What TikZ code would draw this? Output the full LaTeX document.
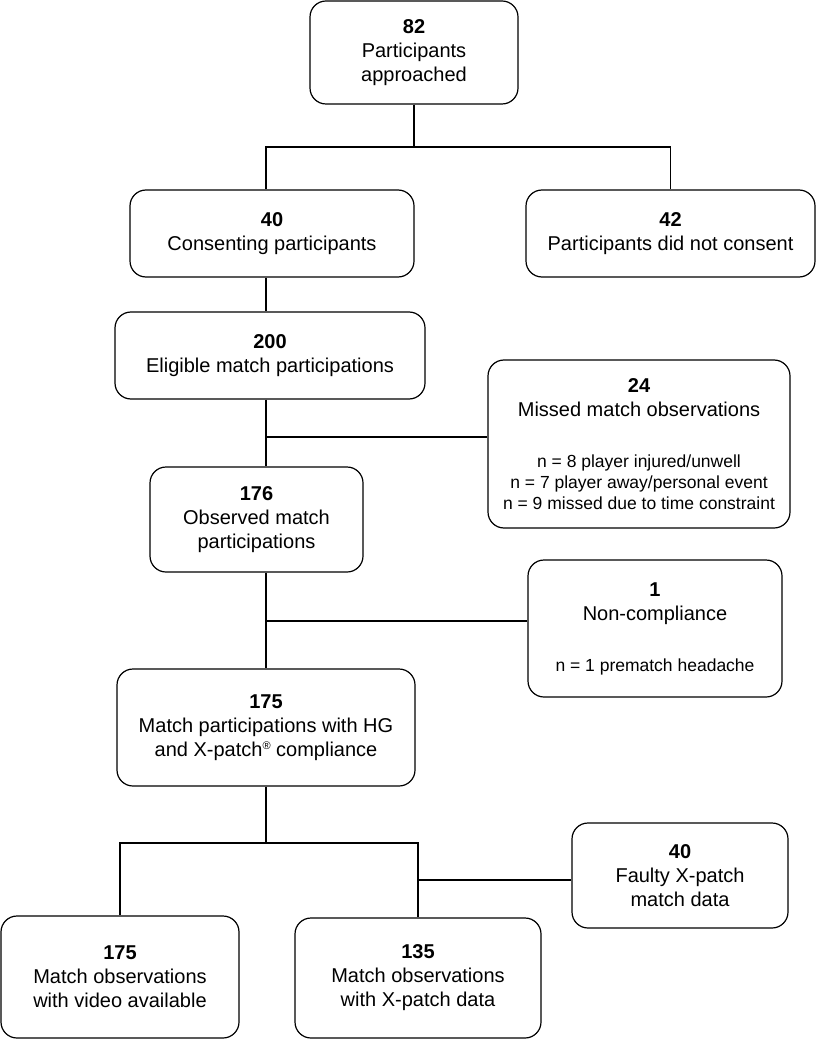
\documentclass[tikz,border=0pt]{standalone}
\usepackage{fontspec}
\setmainfont{Liberation Sans}
\tikzset{
  box/.style={draw, rounded corners=16pt, line width=1.2pt, align=center, inner sep=0pt, font=\fontsize{20}{24}\selectfont},
  link/.style={line width=1.2pt},
}
\newcommand\nline[1]{{\fontsize{17.5}{21}\selectfont #1}}
\newcommand\regmark{\raisebox{7pt}{\fontsize{11}{11}\selectfont ®}}
\begin{document}
\begin{tikzpicture}[x=1pt,y=-1pt]
\useasboundingbox (0,0) rectangle (817,1040);
\coordinate (trunk) at (266,0);
\node[box, minimum width=208pt, minimum height=103pt] (n82) at (414,52.5) {\textbf{82}\\Participants\\approached};
\node[box, minimum width=284pt, minimum height=87pt] (n40) at (272,233.5) {\textbf{40}\\Consenting participants};
\node[box, minimum width=289pt, minimum height=87pt] (n42) at (670.5,233.5) {\textbf{42}\\Participants did not consent};
\node[box, minimum width=310pt, minimum height=87pt] (n200) at (270,355.5) {\textbf{200}\\Eligible match participations};
\node[box, minimum width=302pt, minimum height=168pt] (n24) at (639,444) {\textbf{24}\\Missed match observations\\[27pt]\nline{n = 8 player injured/unwell}\\[-3pt]\nline{n = 7 player away/personal event}\\[-3pt]\nline{n = 9 missed due to time constraint}};
\node[box, minimum width=213pt, minimum height=105pt] (n176) at (256.5,519.5) {\textbf{176}\\Observed match\\participations};
\node[box, minimum width=254pt, minimum height=137pt] (n1) at (655,628.5) {\textbf{1}\\Non-compliance\\[27pt]\nline{n = 1 prematch headache}};
\node[box, minimum width=298pt, minimum height=117pt] (n175) at (266,727.5) {\textbf{175}\\Match participations with HG\\and X-patch\regmark{} compliance};
\node[box, minimum width=216pt, minimum height=105pt] (n40f) at (680,875.5) {\textbf{40}\\Faulty X-patch\\match data};
\node[box, minimum width=238pt, minimum height=122pt] (n175v) at (120,977) {\textbf{175}\\Match observations\\with video available};
\node[box, minimum width=246pt, minimum height=120pt] (n135) at (418,978) {\textbf{135}\\Match observations\\with X-patch data};
% splits and side branches
\coordinate (s1) at (414,147);
\coordinate (m1) at (266,437);
\coordinate (m2) at (266,621);
\coordinate (s2) at (266,843);
\coordinate (m3) at (418,880);
\draw[link] (n82) -- (s1);
\draw[link] (n40.north -| trunk) |- (s1) -| (n42);
\draw[link] (n40.south -| trunk) -- (n200.north -| trunk);
\draw[link] (n200.south -| trunk) -- (n176.north -| trunk);
\draw[link] (m1) -- (m1 -| n24.west);
\draw[link] (n176.south -| trunk) -- (n175.north -| trunk);
\draw[link] (m2) -- (m2 -| n1.west);
\draw[link] (n175) -- (s2);
\draw[link] (n175v) |- (s2) -| (n135);
\draw[link] (m3) -- (m3 -| n40f.west);
\end{tikzpicture}
\end{document}
